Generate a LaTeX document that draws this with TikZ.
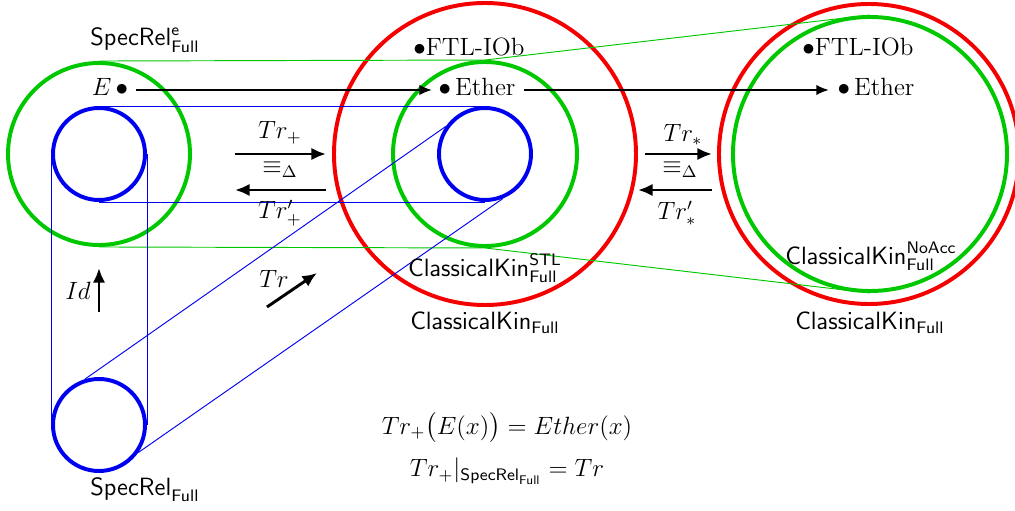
\documentclass[tikz,border=0pt,12pt]{standalone}
\usepackage{amsmath}
\usetikzlibrary{arrows.meta}
\definecolor{cgreen}{RGB}{0,200,0}
\definecolor{cblue}{RGB}{0,0,240}
\definecolor{cred}{RGB}{245,0,0}
\begin{document}
\begin{tikzpicture}[x=0.48pt,y=-0.48pt,
  font=\normalsize,
  ring/.style={circle, draw, line width=1.9pt, inner sep=0pt},
  guide/.style={line width=0.45pt},
  etharr/.style={-{Latex[length=6pt,width=5pt]}, line width=0.9pt},
  maparr/.style={-{Latex[length=7pt,width=6pt]}, line width=1.4pt},
  lbl/.style={inner sep=0pt}]
\useasboundingbox (0,0) rectangle (1015,511);

% circles (minimum size = diameter in px * 0.48pt)
\node[ring, draw=cgreen, minimum size=0.96*91pt] (lg) at (99,154) {};
\node[ring, draw=cblue, minimum size=0.96*46pt] (lb) at (99,154) {};
\node[ring, draw=cred, minimum size=0.96*151pt] (mr) at (485,154) {};
\node[ring, draw=cgreen, minimum size=0.96*92pt] (mg) at (485,154) {};
\node[ring, draw=cblue, minimum size=0.96*46pt] (mb) at (485,154) {};
\node[ring, draw=cred, minimum size=0.96*150pt] (rr) at (869,154) {};
\node[ring, draw=cgreen, minimum size=0.96*137pt] (rg) at (870,154) {};
\node[ring, draw=cblue, minimum size=0.96*46pt] (bb) at (99,425) {};

% guide lines
\draw[guide, cgreen] (lg.north) -- (mg.north) -- (rg.north);
\draw[guide, cgreen] (lg.south) -- (mg.south) -- (rg.south);
\draw[guide, cblue] (lb.north) -- (mb.north);
\draw[guide, cblue] (lb.south) -- (mb.south);
\draw[guide, cblue] (lb.west) -- (bb.west);
\draw[guide, cblue] (lb.east) -- (bb.east);
\draw[guide, cblue] (bb.107) -- (mb.145);
\draw[guide, cblue] (bb.-35) -- (mb.-68);

% labels
\node[lbl] (srE) at (145,40) {$\mathsf{SpecRel}^{\mathsf{e}}_{\mathsf{Full}}$};
\node[lbl] (sr) at (145,490) {$\mathsf{SpecRel}_{\mathsf{Full}}$};
\node[lbl] (ckstl) at (485,268) {$\mathsf{ClassicalKin}^{\mathsf{STL}}_{\mathsf{Full}}$};
\node[lbl] (ck1) at (485,323) {$\mathsf{ClassicalKin}_{\mathsf{Full}}$};
\node[lbl] (cknoacc) at (871,256) {$\mathsf{ClassicalKin}^{\mathsf{NoAcc}}_{\mathsf{Full}}$};
\node[lbl] (ck2) at (870,323) {$\mathsf{ClassicalKin}_{\mathsf{Full}}$};
\node[lbl] (ftl1) at (469,47) {$\bullet$FTL-IOb};
\node[lbl] (ftl2) at (858,47) {$\bullet$FTL-IOb};

% ether points
\node[lbl, anchor=base] (E) at (110,96) {$E\,\bullet$};
\node[lbl, anchor=base] (eth1) at (477,96) {$\bullet$\,Ether};
\node[lbl, anchor=base] (eth2) at (876,96) {$\bullet$\,Ether};
\coordinate (ey) at (0,90);
\draw[etharr] ([xshift=3.5pt]E.east |- ey) -- ([xshift=-3pt]eth1.west |- ey);
\draw[etharr] ([xshift=4pt]eth1.east |- ey) -- ([xshift=-4pt]eth2.west |- ey);

% Tr+ arrows
\coordinate (a1s) at (235,154); \coordinate (a1e) at (326,154);
\coordinate (a2s) at (326,190); \coordinate (a2e) at (235,190);
\draw[maparr] (a1s) -- (a1e);
\draw[maparr] (a2s) -- (a2e);
\node[lbl] (trp) at (280,133) {$Tr_+$};
\node[lbl] (eq1) at (280,170) {$\equiv_\Delta$};
\node[lbl] (trpp) at (280,213) {$Tr'_+$};

% Tr* arrows
\coordinate (b1s) at (645,154); \coordinate (b1e) at (712,154);
\coordinate (b2s) at (712,190); \coordinate (b2e) at (638,190);
\draw[maparr] (b1s) -- (b1e);
\draw[maparr] (b2s) -- (b2e);
\node[lbl] (trs) at (683,135) {$Tr_*$};
\node[lbl] (eq2) at (680,170) {$\equiv_\Delta$};
\node[lbl] (trsp) at (677,213) {$Tr'_*$};

% Id arrow
\coordinate (ids) at (99,312); \coordinate (ide) at (99,268);
\draw[maparr] (ids) -- (ide);
\node[lbl] (id) at (78,291) {$Id$};

% Tr arrow
\coordinate (trs0) at (267,307); \coordinate (tre0) at (317,273);
\draw[maparr] (trs0) -- (tre0);
\node[lbl] (tr) at (274,279) {$Tr$};

% formulas
\node[lbl] (f1) at (507,428) {$Tr_+\bigl(E(x)\bigr) = Ether(x)$};
\node[lbl] (f2) at (507,471) {$Tr_+|_{\mathsf{SpecRel}_{\mathsf{Full}}} = Tr$};
\end{tikzpicture}
\end{document}
